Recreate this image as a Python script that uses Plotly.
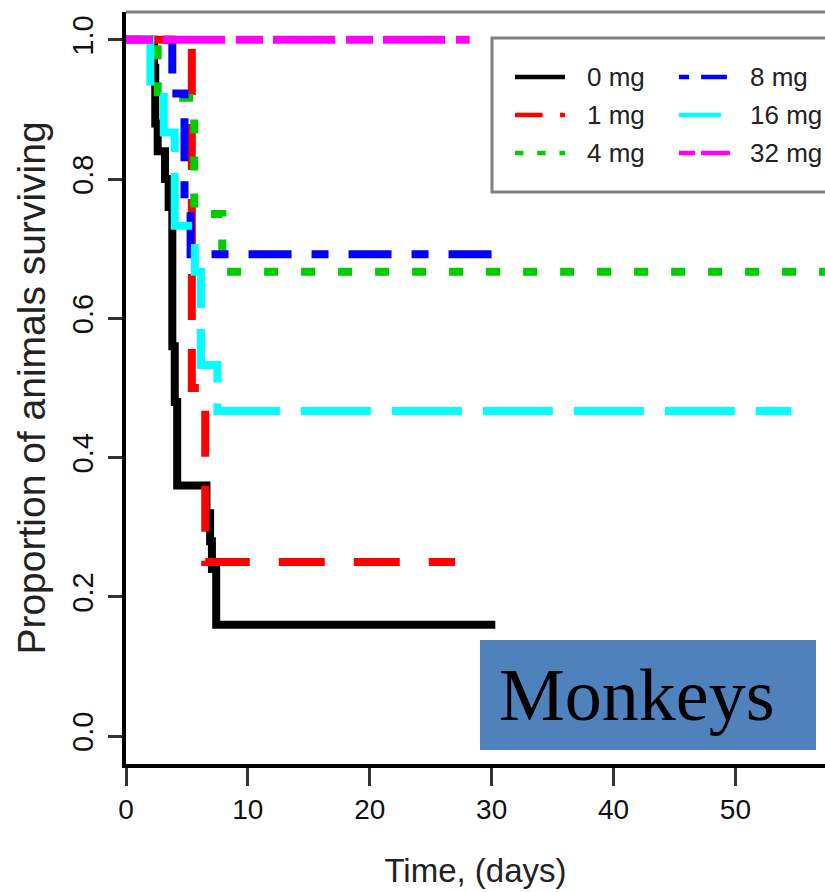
import plotly.graph_objects as go

# ---- data (Kaplan-Meier step curves) ----
labels = ["0 mg", "1 mg", "4 mg", "8 mg", "16 mg", "32 mg"]

t_0mg = [0, 2.3, 2.4, 2.6, 3.2, 3.5, 3.8, 4.0, 4.2, 6.6, 6.9, 7.05, 7.4, 30.3]
s_0mg = [1.0, 0.96, 0.88, 0.84, 0.80, 0.76, 0.56, 0.48, 0.36, 0.32, 0.28, 0.24, 0.16, 0.16]

t_1mg = [0, 5.4, 6.5, 27.0]
s_1mg = [1.0, 0.5, 0.25, 0.25]

t_4mg = [0, 2.6, 5.6, 7.9, 58.0]
s_4mg = [1.0, 0.917, 0.75, 0.667, 0.667]

t_8mg = [0, 3.8, 4.8, 5.3, 30.3]
s_8mg = [1.0, 0.923, 0.769, 0.692, 0.692]

t_16mg = [0, 2.0, 3.1, 4.0, 5.65, 6.15, 7.5, 54.6]
s_16mg = [1.0, 0.933, 0.867, 0.733, 0.667, 0.533, 0.467, 0.467]

t_32mg = [0, 28.2]
s_32mg = [1.0, 1.0]

x_ticks = [0, 10, 20, 30, 40, 50]
y_ticks = [0.0, 0.2, 0.4, 0.6, 0.8, 1.0]
y_tick_text = ["0.0", "0.2", "0.4", "0.6", "0.8", "1.0"]

times = [t_0mg, t_1mg, t_4mg, t_8mg, t_16mg, t_32mg]
survs = [s_0mg, s_1mg, s_4mg, s_8mg, s_16mg, s_32mg]

# ---- styles ----
colors = ["#000000", "#FF0000", "#00CD00", "#0000FF", "#00FFFF", "#FF00FF"]
dash_px = [None, [46, 29], [14, 23], [17, 20, 43, 20], [70, 21], [27, 10, 62, 11]]
LW = 8


def dash_str(d, scale=1.0):
    if d is None:
        return "solid"
    return ",".join(f"{v*scale:.1f}px" for v in d)


fig = go.Figure()
for t, s, c, d, name in zip(times, survs, colors, dash_px, labels):
    fig.add_trace(go.Scatter(
        x=t, y=s, mode="lines", name=name, showlegend=False,
        line=dict(color=c, width=LW, dash=dash_str(d), shape="hv"),
    ))

X_MAX = 57.35
fig.update_layout(
    width=825, height=892,
    margin=dict(l=126, r=0, t=12, b=128),
    paper_bgcolor="white", plot_bgcolor="white",
    showlegend=False,
    font=dict(family="Liberation Sans, Arial, sans-serif", color="#111"),
    xaxis=dict(
        range=[0, X_MAX], tickvals=x_ticks, ticktext=[str(v) for v in x_ticks],
        showline=True, linecolor="black", linewidth=3.5,
        ticks="outside", ticklen=18, tickwidth=2.5, tickcolor="#333",
        showgrid=False, zeroline=False,
        tickfont=dict(size=28, color="#111"),
        title=dict(text="Time, (days)", font=dict(size=33, color="#222"), standoff=36),
    ),
    yaxis=dict(
        range=[-0.04, 1.04], tickvals=y_ticks, ticktext=y_tick_text,
        showline=True, linecolor="black", linewidth=3.5,
        ticks="outside", ticklen=14, tickwidth=2.5, tickcolor="#333",
        showgrid=False, zeroline=False, tickangle=-90, ticklabelstandoff=4,
        tickfont=dict(size=29, color="#111"),
        title=dict(text="Proportion of animals surviving", font=dict(size=39, color="#222"), standoff=10),
    ),
)

# top frame line (grey)
fig.add_shape(type="line", xref="paper", yref="paper", x0=0, x1=1, y0=1, y1=1,
              line=dict(color="#808080", width=3))

# ---- legend box drawn by hand (two columns) ----
fig.add_shape(type="rect", xref="paper", yref="paper", x0=0.5236, x1=1.02, y0=0.7606, y1=0.9654,
              line=dict(color="#808080", width=3), fillcolor="white", layer="above")
row_y = [0.9136, 0.863, 0.8125]
col_line = [(0.5565, 0.628), (0.791, 0.864)]
col_text = [0.6567, 0.8898]
for i, (name, c, d) in enumerate(zip(labels, colors, dash_px)):
    col, row = divmod(i, 3)
    x0, x1 = col_line[col]
    fig.add_shape(type="line", xref="paper", yref="paper", x0=x0, x1=x1,
                  y0=row_y[row], y1=row_y[row], layer="above",
                  line=dict(color=c, width=4.5, dash=dash_str(d, 0.6)))
    fig.add_annotation(xref="paper", yref="paper", x=col_text[col], y=row_y[row],
                       text=name, showarrow=False, xanchor="left", yanchor="middle",
                       font=dict(size=26, color="#222"))

# ---- "Monkeys" label box ----
fig.add_shape(type="rect", xref="paper", yref="paper", x0=0.5064, x1=0.9871, y0=0.0186, y1=0.1649,
              line=dict(width=0), fillcolor="#4F81BD", layer="above")
fig.add_annotation(xref="paper", yref="paper", x=0.731, y=0.0918, text="Monkeys",
                   showarrow=False, xanchor="center", yanchor="middle",
                   font=dict(family="Liberation Serif, Times New Roman, serif", size=74, color="black"))

fig.write_html("out.html")
